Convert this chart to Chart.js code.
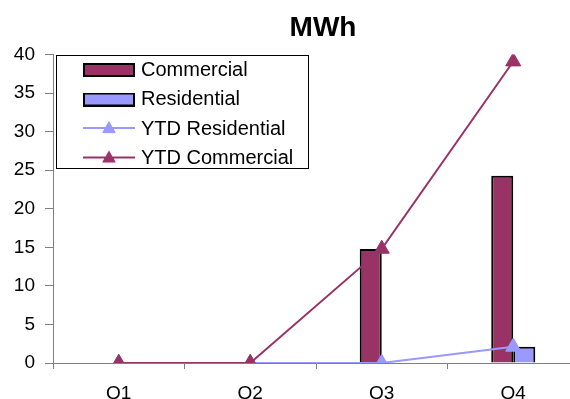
<!DOCTYPE html>
<html><head><meta charset="utf-8">
<script src="https://cdn.jsdelivr.net/npm/chart.js@4/dist/chart.umd.min.js"></script>
<style>
html,body{margin:0;padding:0;overflow:hidden;background:#fff;width:570px;height:399px}
#wrap{width:646px;height:399px}
</style></head>
<body><div id="wrap"><canvas id="c" width="646" height="399"></canvas></div>
<script>
const categories = ['Q1', 'Q2', 'Q3', 'Q4'];
const commercial = [0, 0, 14.8, 24.3];
const residential = [0, 0, 0, 2.1];
const ytdResidential = [0, 0, 0, 2.1];
const ytdCommercial = [0, 0, 14.8, 39.1];
const seriesNames = ['Commercial', 'Residential', 'YTD Residential', 'YTD Commercial'];
const yMin = 0, yMax = 40, yStep = 5;
const titleText = 'MWh';

const MAROON = '#993366', LILAC = '#9999FF', AXIS = '#808080';
const FONT = "'Liberation Sans', Arial, sans-serif";

function barSwatch(color) {
  const c = document.createElement('canvas');
  c.width = 52; c.height = 14;
  const x = c.getContext('2d');
  x.fillStyle = color; x.fillRect(1, 1, 50, 12);
  x.strokeStyle = '#000'; x.lineWidth = 2; x.strokeRect(1, 1, 50, 12);
  return c;
}
function lineSwatch(color) {
  const c = document.createElement('canvas');
  c.width = 52; c.height = 20;
  const x = c.getContext('2d');
  x.strokeStyle = color; x.fillStyle = color; x.lineWidth = 2;
  x.beginPath(); x.moveTo(0, 9); x.lineTo(52, 9); x.stroke();
  x.lineWidth = 1;
  Chart.helpers.drawPoint(x, {pointStyle: 'triangle', radius: 7.2, rotation: 0, borderWidth: 1}, 26, 10);
  return c;
}
const swatches = [barSwatch(MAROON), barSwatch(LILAC), lineSwatch(LILAC), lineSwatch(MAROON)];

const legendPlacer = {
  id: 'legendPlacer',
  afterLayout(chart, args, opts) {
    const lg = chart.legend;
    lg.left = opts.left; lg.top = opts.top;
    lg.right = opts.left + opts.width; lg.bottom = opts.top + opts.height;
  },
  beforeDraw(chart) {
    const ctx = chart.ctx;
    ctx.save();
    ctx.fillStyle = '#fff';
    ctx.fillRect(0, 0, chart.width, chart.height);
    ctx.restore();
  },
  afterDraw(chart, args, opts) {
    const ctx = chart.ctx;
    ctx.save();
    ctx.strokeStyle = '#000'; ctx.lineWidth = 1;
    ctx.strokeRect(opts.boxLeft + 0.5, opts.boxTop + 0.5, opts.boxW, opts.boxH);
    ctx.restore();
  }
};

new Chart(document.getElementById('c'), {
  data: {
    labels: categories,
    datasets: [
      {type: 'bar', label: seriesNames[0], data: commercial, backgroundColor: MAROON, borderColor: '#000', borderWidth: 2, order: 3, barPercentage: 1, categoryPercentage: 0.335},
      {type: 'bar', label: seriesNames[1], data: residential, backgroundColor: LILAC, borderColor: '#000', borderWidth: 2, order: 4, barPercentage: 1, categoryPercentage: 0.335},
      {type: 'line', label: seriesNames[2], data: ytdResidential, borderColor: LILAC, backgroundColor: LILAC, borderWidth: 2, pointStyle: 'triangle', pointRadius: 8.7, pointBorderWidth: 1, tension: 0, order: 2},
      {type: 'line', label: seriesNames[3], data: ytdCommercial, borderColor: MAROON, backgroundColor: MAROON, borderWidth: 2, pointStyle: 'triangle', pointRadius: 8.7, pointBorderWidth: 1, tension: 0, order: 1}
    ]
  },
  options: {
    responsive: false,
    animation: false,
    events: [],
    layout: {padding: 0},
    plugins: {
      tooltip: {enabled: false},
      title: {display: true, text: titleText, color: '#000', font: {family: FONT, size: 28, weight: 'bold'}, padding: {top: 11, bottom: 10}},
      legend: {
        position: 'chartArea',
        align: 'start',
        labels: {
          usePointStyle: true,
          pointStyleWidth: 44,
          padding: 9.5,
          color: '#000',
          font: {family: FONT, size: 20},
          generateLabels(chart) {
            return chart.data.datasets.map((ds, i) => ({
              text: ds.label, pointStyle: swatches[i], datasetIndex: i, hidden: false,
              fillStyle: ds.backgroundColor, strokeStyle: ds.borderColor, lineWidth: 0,
              fontColor: '#000', textAlign: 'left'
            }));
          }
        }
      },
      legendPlacer: {left: 77.5, top: 50.5, width: 240, height: 130, boxLeft: 56, boxTop: 55, boxW: 252, boxH: 113}
    },
    scales: {
      x: {
        grid: {display: true, drawOnChartArea: false, drawTicks: true, tickLength: 6, color: AXIS, lineWidth: 1},
        border: {display: true, color: AXIS, width: 1},
        ticks: {color: '#000', font: {family: FONT, size: 19}, padding: 13, maxRotation: 0},
        afterFit(s) { s.height = 36; }
      },
      y: {
        min: yMin, max: yMax,
        grid: {display: true, drawOnChartArea: false, drawTicks: true, tickLength: 8, color: AXIS, lineWidth: 1},
        border: {display: true, color: AXIS, width: 1},
        ticks: {stepSize: yStep, color: '#000', font: {family: FONT, size: 19}, padding: 10},
        afterFit(s) { s.width = 53; }
      },
      spacer: {
        type: 'linear', position: 'right', display: true,
        grid: {display: false}, border: {display: false}, ticks: {display: false},
        afterFit(s) { s.width = 67; }
      }
    }
  },
  plugins: [legendPlacer]
});
</script>
</body></html>
